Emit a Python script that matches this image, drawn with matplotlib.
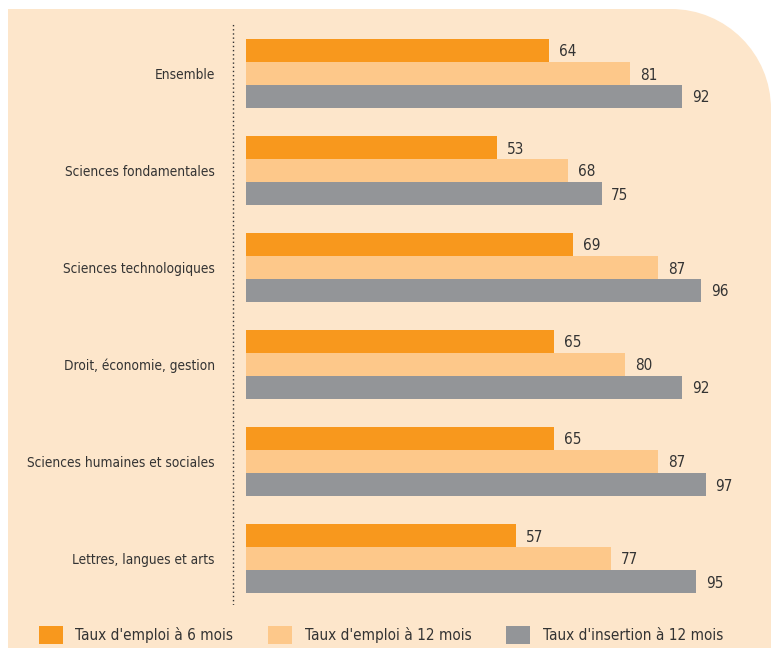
import matplotlib.pyplot as plt
import numpy as np
from matplotlib.path import Path
from matplotlib.patches import PathPatch, Patch
from matplotlib import font_manager

categories = ["Ensemble", "Sciences fondamentales", "Sciences technologiques",
              "Droit, économie, gestion", "Sciences humaines et sociales",
              "Lettres, langues et arts"]
emploi_6 = [64, 53, 69, 65, 65, 57]
emploi_12 = [81, 68, 87, 80, 87, 77]
insertion_12 = [92, 75, 96, 92, 97, 95]
series_names = ["Taux d'emploi à 6 mois", "Taux d'emploi à 12 mois",
                "Taux d'insertion à 12 mois"]

colors = ['#f8981d', '#fdc88a', '#939598']
bg = '#fde6cb'
txt = '#333333'

# narrow font if there is one, else condensed DejaVu
names = {f.name for f in font_manager.fontManager.ttflist}
if 'Liberation Sans Narrow' in names:
    plt.rcParams['font.family'] = ['Liberation Sans Narrow', 'DejaVu Sans']
else:
    plt.rcParams['font.family'] = ['DejaVu Sans']
    plt.rcParams['font.stretch'] = 'condensed'

W, H = 771, 648
fig = plt.figure(figsize=(W / 100, H / 100), dpi=100)

# background panel with rounded top-right corner (pixel coords -> figure fraction)
x0, y0, x1, y1, r = 8, 9, 771, 648, 100
k = 0.5523
verts = [(x0, y1), (x0, y0), (x1 - r, y0),
         (x1 - r + k * r, y0), (x1, y0 + r - k * r), (x1, y0 + r),
         (x1, y1), (x0, y1)]
codes = [Path.MOVETO, Path.LINETO, Path.LINETO,
         Path.CURVE4, Path.CURVE4, Path.CURVE4,
         Path.LINETO, Path.CLOSEPOLY]
verts = [(vx / W, 1 - vy / H) for vx, vy in verts]
fig.patches.append(PathPatch(Path(verts, codes), facecolor=bg, edgecolor='none',
                             transform=fig.transFigure, zorder=-10))

# axes: pixel 230..771 horizontally, 24..605 vertically
px_per_unit = 4.74
left_px, top_px, bot_px = 230, 24, 605
ax = fig.add_axes([left_px / W, 1 - bot_px / H, (W - left_px) / W, (bot_px - top_px) / H])
ax.set_zorder(5)
ax.patch.set_alpha(0)
ax.set_xlim((left_px - 246) / px_per_unit, (W - 246) / px_per_unit)
group_px = 97.0
ax.set_ylim((bot_px - 73.5) / group_px, (top_px - 73.5) / group_px)

y = np.arange(len(categories))
h = 23 / group_px
for i, (vals, c) in enumerate(zip([emploi_6, emploi_12, insertion_12], colors)):
    bars = ax.barh(y + (i - 1) * h, vals, height=h, color=c, linewidth=0)
    labs = ax.bar_label(bars, padding=7, fontsize=11, color=txt)
    for t in labs:
        t.set_verticalalignment('center_baseline')

ax.axvline((233 - 246) / px_per_unit, color='#333333', linestyle=(0, (1, 2)), linewidth=1)

ax.set_yticks(y)
ax.set_yticklabels(categories, fontsize=9.8, color=txt)
ax.tick_params(axis='y', length=0, pad=11)
ax.set_xticks([])
for s in ax.spines.values():
    s.set_visible(False)

handles = [Patch(facecolor=c, edgecolor='none') for c in colors]
fig.legend(handles, series_names, loc='lower left', bbox_to_anchor=(39 / W, 4 / H),
           ncol=3, frameon=False, fontsize=11, borderpad=0, borderaxespad=0,
           handlelength=1.57, handleheight=1.44, handletextpad=0.8, columnspacing=2.3,
           labelcolor=txt)

fig.savefig('out.png', dpi=100)
